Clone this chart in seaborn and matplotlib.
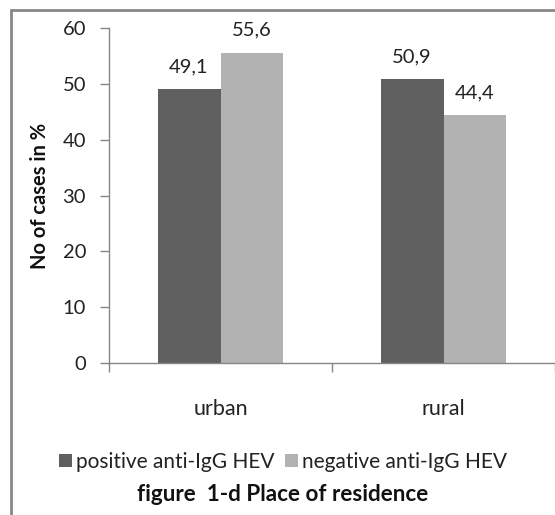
import matplotlib
matplotlib.use("Agg")
import matplotlib.pyplot as plt
import seaborn as sns
import pandas as pd
from matplotlib.patches import Rectangle

# Data
categories = ["urban", "rural"]
series_names = ["positive anti-IgG HEV", "negative anti-IgG HEV"]
positive = [49.1, 50.9]
negative = [55.6, 44.4]
yticks = [0, 10, 20, 30, 40, 50, 60]

df = pd.DataFrame({
    "place": categories * 2,
    "status": [series_names[0]] * 2 + [series_names[1]] * 2,
    "pct": positive + negative,
})

sns.set_theme(style="white")
plt.rcParams["font.family"] = ["Lato", "DejaVu Sans"]
FS = 14.5

fig = plt.figure(figsize=(5.55, 5.15), dpi=100)
ax = fig.add_axes([0.1964, 0.2951, 0.8036, 0.6505])

palette = {series_names[0]: "#606060", series_names[1]: "#b2b2b2"}
sns.barplot(data=df, x="place", y="pct", hue="status", order=categories,
            hue_order=series_names, palette=palette, width=0.565, gap=0,
            saturation=1, linewidth=0, ax=ax, legend=True)

ax.set_xlim(-0.5, 1.5)
ax.set_ylim(0, 60)
ax.set_yticks(yticks)
ax.set_yticklabels([str(v) for v in yticks], fontsize=FS, color="#222222")
ax.set_xticks(range(len(categories)))
ax.set_xticklabels(categories, fontsize=15.5, color="#222222")
ax.set_xticks([-0.5, 0.5, 1.5], minor=True)
ax.tick_params(axis="x", which="major", length=0, pad=26)
ax.tick_params(axis="x", which="minor", length=6.5, width=1, color="#868686",
               direction="out", bottom=True)
ax.tick_params(axis="y", length=6.5, width=1, color="#868686", direction="out",
               left=True, pad=10)
ax.set_xlabel("")
ax.set_ylabel("No of cases in %", fontsize=FS, fontweight="bold",
              color="#111111", labelpad=9)

for side in ["top", "right"]:
    ax.spines[side].set_visible(False)
for side in ["left", "bottom"]:
    ax.spines[side].set_color("#868686")
    ax.spines[side].set_linewidth(1)

# Value labels with comma decimals
for container in ax.containers:
    ax.bar_label(container, labels=[f"{v:.1f}".replace(".", ",") for v in container.datavalues],
                 padding=10, fontsize=FS, color="#222222")

# Legend below the plot
handles, labels = ax.get_legend_handles_labels()
ax.get_legend().remove()
fig.legend(handles, labels, loc="center", bbox_to_anchor=(0.51, 0.103), ncol=2,
           frameon=False, fontsize=15, handlelength=0.6, handleheight=0.6,
           handletextpad=0.2, columnspacing=0.5, labelcolor="#222222")

fig.text(0.51, 0.039, "figure  1-d Place of residence", ha="center", va="center",
         fontsize=16.2, fontweight="bold", color="#111111")

# Chart border
fig.patches.append(Rectangle((0.02, -0.05), 1.2, 1.031, transform=fig.transFigure,
                             fill=False, edgecolor="#888888", linewidth=2))

fig.savefig("out.png", dpi=100)
